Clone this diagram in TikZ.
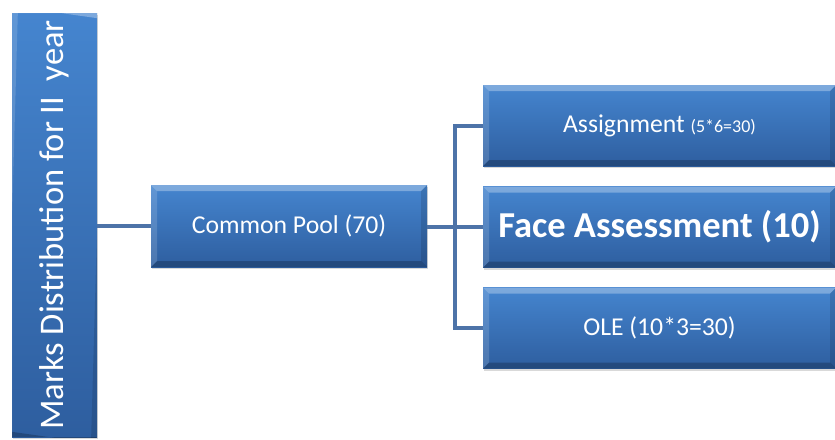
\documentclass[tikz,border=0pt]{standalone}
\usepackage{fontspec}
\setmainfont{Carlito}
\usetikzlibrary{positioning,shadows}
\definecolor{boxtop}{HTML}{4585CF}
\definecolor{boxbot}{HTML}{2E5E9F}
\definecolor{linkblue}{HTML}{4D73A8}
\tikzstyle{link} = [draw=linkblue, line width=4pt]
\tikzset{
 bevel/.style
  = {path picture={
     \fill[white,opacity=.30] (path picture bounding box.north west) -- (path picture bounding box.north east)
        -- ([shift={(-6pt,-6pt)}]path picture bounding box.north east) -- ([shift={(6pt,-6pt)}]path picture bounding box.north west) -- cycle;
     \fill[white,opacity=.15] (path picture bounding box.north west) -- (path picture bounding box.south west)
        -- ([shift={(6pt,6pt)}]path picture bounding box.south west) -- ([shift={(6pt,-6pt)}]path picture bounding box.north west) -- cycle;
     \fill[black,opacity=.22] (path picture bounding box.south west) -- (path picture bounding box.south east)
        -- ([shift={(-6pt,6pt)}]path picture bounding box.south east) -- ([shift={(6pt,6pt)}]path picture bounding box.south west) -- cycle;
     \fill[black,opacity=.12] (path picture bounding box.north east) -- (path picture bounding box.south east)
        -- ([shift={(-6pt,6pt)}]path picture bounding box.south east) -- ([shift={(-6pt,-6pt)}]path picture bounding box.north east) -- cycle;
    }},
 box/.style
  = {rectangle, top color=boxtop, bottom color=boxbot, text=white, inner sep=0pt,
     text centered, bevel,
     drop shadow={opacity=0.3, shadow xshift=1pt, shadow yshift=-2pt}},
 pool/.style
  = {box, minimum width=276pt, minimum height=82pt},
 part/.style
  = {box, minimum width=353pt, minimum height=81pt},
 title/.style
  = {box, rotate=90, minimum width=424pt, minimum height=85pt},
}

\begin{document}
\begin{tikzpicture}[x=1pt,y=-1pt]
\useasboundingbox (0,0) rectangle (835,439);

% Title bar
\node[title] (marks) at (54.5,225)
  {\fontsize{34.5}{40}\selectfont Marks Distribution for II\ \ year};

% Common pool
\node[pool] (pool) at (289,226) {\fontsize{25.7}{30}\selectfont Common Pool (70)};

% Parts of the pool
\node[part] (assign) at (659.5,125.5)
  {\fontsize{25.7}{30}\selectfont Assignment {\fontsize{18}{20}\selectfont (5*6=30)}};
\node[part] (face) at (659.5,227)
  {\fontsize{36.5}{42}\selectfont\bfseries Face Assessment (10)};
\node[part] (ole) at (659.5,328)
  {\fontsize{25.7}{30}\selectfont OLE (10*3=30)};

% Connectors
\coordinate (split) at (455,227);
\draw[link] (marks.south |- pool) -- (pool.west);
\draw[link] (pool.east |- face) -- (face.west);
\draw[link] (assign.west) -| (split) |- (ole.west);

\end{tikzpicture}
\end{document}
